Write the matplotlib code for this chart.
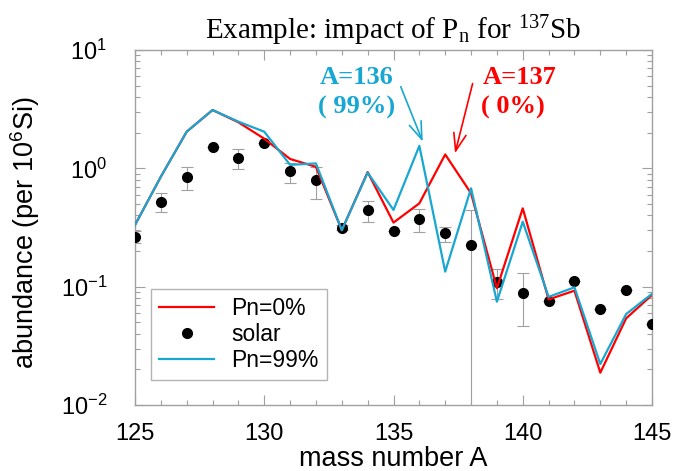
import matplotlib
matplotlib.use("Agg")
import matplotlib.pyplot as plt
from matplotlib.legend_handler import HandlerLine2D
from matplotlib.ticker import LogLocator, MultipleLocator, NullFormatter

# ---- data ----
mass = [125, 126, 127, 128, 129, 130, 131, 132, 133, 134, 135,
        136, 137, 138, 139, 140, 141, 142, 143, 144, 145]
solar = [0.264, 0.522, 0.843, 1.51, 1.23, 1.63, 0.949, 0.796, 0.315, 0.445, 0.295,
         0.371, 0.282, 0.225, 0.109, 0.0879, 0.0757, 0.112, 0.0644, 0.0938, 0.0484]
solar_hi = [0.297, 0.615, 1.03, 1.51, 1.47, 1.63, 1.10, 1.03, 0.33, 0.533, 0.295,
            0.450, 0.318, 0.445, 0.140, 0.130, 0.0757, 0.112, 0.0644, 0.0938, 0.0484]
solar_lo = [0.232, 0.425, 0.656, 1.51, 0.986, 1.63, 0.746, 0.547, 0.30, 0.354, 0.295,
            0.292, 0.240, 0.001, 0.078, 0.0466, 0.0757, 0.112, 0.0644, 0.0938, 0.0484]
pn0 = [0.332, 0.85, 2.04, 3.11, 2.45, 1.78, 1.20, 1.03, 0.30, 0.93, 0.348,
       0.506, 1.31, 0.615, 0.097, 0.459, 0.078, 0.0925, 0.01875, 0.054, 0.0851]
pn99 = [0.332, 0.85, 2.04, 3.11, 2.48, 2.04, 1.07, 1.10, 0.30, 0.92, 0.445,
        1.55, 0.134, 0.678, 0.0746, 0.354, 0.082, 0.0987, 0.0222, 0.0587, 0.087]

RED = "#ff0000"
CYAN = "#17a7d3"
GRAY = "#a0a0a0"

plt.rcParams["font.family"] = ["Liberation Sans", "DejaVu Sans"]
plt.rcParams["mathtext.default"] = "regular"
plt.rcParams["axes.unicode_minus"] = False

fig = plt.figure(figsize=(6.76, 4.71), dpi=100)
ax = fig.add_axes([135 / 676, 1 - 405 / 471, 517 / 676, 355 / 471])

yerr = [[s - l for s, l in zip(solar, solar_lo)], [h - s for s, h in zip(solar, solar_hi)]]
ax.errorbar(mass, solar, yerr=yerr, fmt="none", ecolor=GRAY, elinewidth=0.8,
            capsize=4, capthick=0.8, zorder=2)
h_solar, = ax.plot(mass, solar, "o", color="black", markersize=7, ls="none",
                   zorder=3, label="solar")
h_red, = ax.plot(mass, pn0, color=RED, lw=1.6, zorder=4, label="Pn=0%")
h_cyan, = ax.plot(mass, pn99, color=CYAN, lw=1.6, zorder=5, label="Pn=99%")

ax.set_yscale("log")
ax.set_xlim(125, 145)
ax.set_ylim(1e-2, 1e1)
ax.xaxis.set_major_locator(MultipleLocator(5))
ax.xaxis.set_minor_locator(MultipleLocator(1))
ax.yaxis.set_major_locator(LogLocator(base=10, numticks=10))
ax.yaxis.set_minor_locator(LogLocator(base=10, subs=range(2, 10), numticks=20))
ax.yaxis.set_minor_formatter(NullFormatter())

for s in ax.spines.values():
    s.set_color(GRAY)
    s.set_linewidth(1.0)
ax.tick_params(which="both", direction="in", top=True, right=True, color=GRAY, width=0.8)
ax.tick_params(which="major", length=7)
ax.tick_params(which="minor", length=3.5)
ax.tick_params(axis="x", which="major", labelsize=17, pad=13)
ax.tick_params(axis="y", which="major", labelsize=17, pad=20)

ax.set_xlabel("mass number A", fontsize=19.5)
ax.set_ylabel("abundance (per 10$^{6}$Si)", fontsize=19.5)
ax.xaxis.set_label_coords(0.5, -0.115)
ax.yaxis.set_label_coords(-0.18, 0.485)

fig.text(393.5 / 676, 1 - 31 / 471, "Example: impact of P$_{n}$ for $^{137}$Sb",
         ha="center", va="center", fontsize=21, family=["Liberation Serif", "DejaVu Serif"])

# annotations
serif_bold = dict(family=["Liberation Serif", "DejaVu Serif"], fontweight="bold",
                  fontsize=19, ha="center", va="center")
ax.text(133.59, 5.9, "A=136", color=CYAN, **serif_bold)
ax.text(133.59, 3.25, "( 99%)", color=CYAN, **serif_bold)
ax.text(139.86, 5.9, "A=137", color=RED, **serif_bold)
ax.text(139.6, 3.25, "( 0%)", color=RED, **serif_bold)
ax.annotate("", xy=(136.13, 1.68), xytext=(135.28, 4.9),
            arrowprops=dict(arrowstyle="->,head_length=0.7,head_width=0.25",
                            color=CYAN, lw=1.2, shrinkA=0, shrinkB=0, mutation_scale=18))
ax.annotate("", xy=(137.38, 1.34), xytext=(138.06, 5.2),
            arrowprops=dict(arrowstyle="->,head_length=0.7,head_width=0.25",
                            color=RED, lw=1.2, shrinkA=0, shrinkB=0, mutation_scale=18))


class RightMarkerHandler(HandlerLine2D):
    def get_xdata(self, legend, xdescent, ydescent, width, height, fontsize):
        xdata, _ = super().get_xdata(legend, xdescent, ydescent, width, height, fontsize)
        return xdata, [-xdescent + width * 0.97]


leg = ax.legend(handles=[h_red, h_solar, h_cyan], loc="lower left",
                bbox_to_anchor=(16 / 517, 25 / 355), borderaxespad=0,
                fontsize=16.5, frameon=True, fancybox=False, handlelength=2.4,
                handletextpad=0.75, labelspacing=0.12, borderpad=0.35,
                handler_map={h_solar: RightMarkerHandler(numpoints=1)})
leg.get_frame().set_edgecolor(GRAY)
leg.get_frame().set_linewidth(1.0)

fig.savefig("out.png", dpi=100)
